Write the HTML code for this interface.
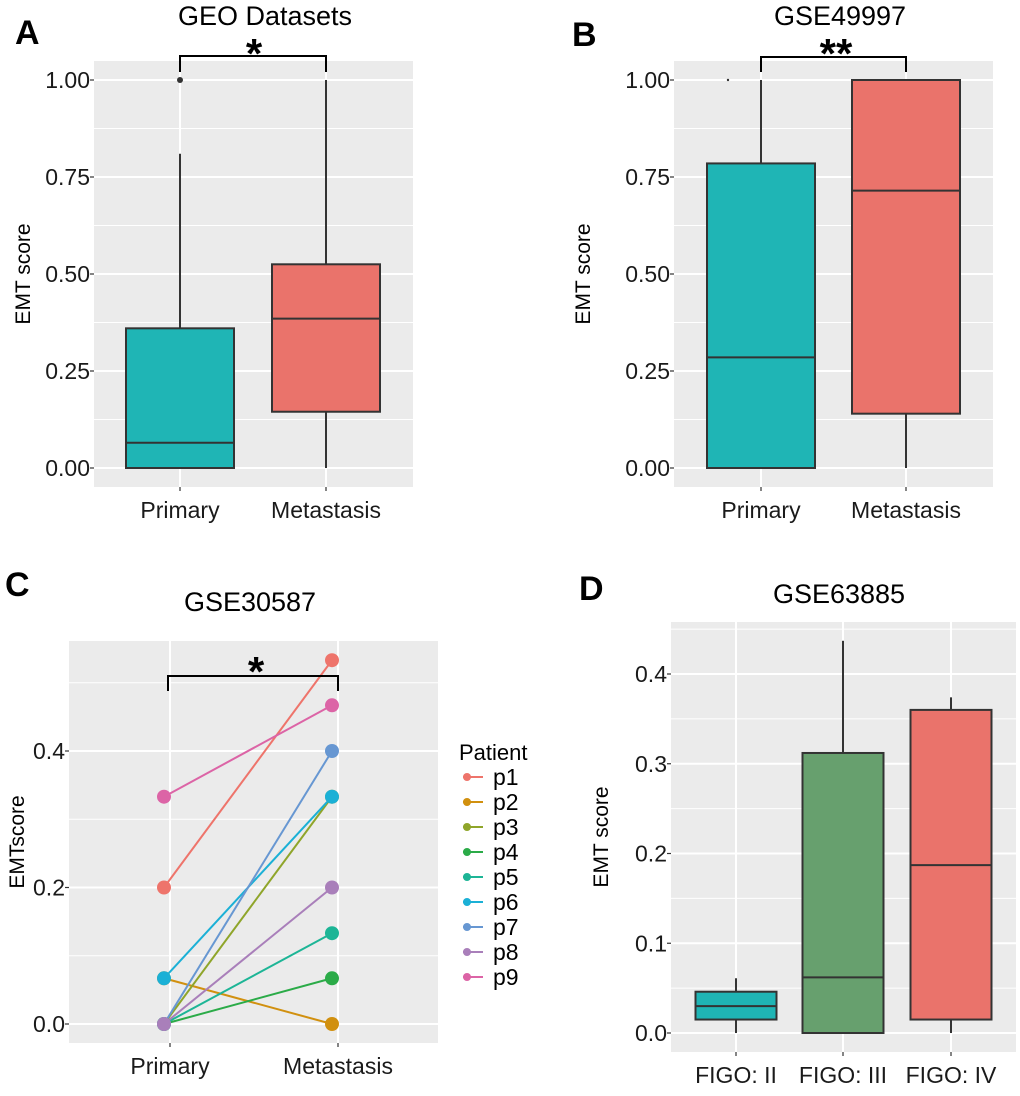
<!DOCTYPE html>
<html><head><meta charset="utf-8">
<style>
body{margin:0;background:#fff;}
svg{display:block;font-family:"Liberation Sans",Arial,sans-serif;}
</style></head>
<body>
<svg id="fig" width="1020" height="1096" viewBox="0 0 1020 1096">
</svg>
<script>
// ---------- DATA ----------
const groupsAB = ["Primary", "Metastasis"];
const ticksAB = [0, 0.25, 0.5, 0.75, 1.0];
const tickLabelsAB = ["0.00", "0.25", "0.50", "0.75", "1.00"];
// [lowerWhisker, q1, median, q3, upperWhisker]
const statsA = [[0, 0, 0.065, 0.36, 0.81], [0, 0.145, 0.385, 0.525, 1.0]];
const outliersA = [[1.0], []];
const statsB = [[0, 0, 0.285, 0.785, 1.0], [0, 0.14, 0.715, 1.0, 1.0]];

const patients = ["p1","p2","p3","p4","p5","p6","p7","p8","p9"];
const primaryC = [0.2, 0.067, 0, 0, 0, 0.067, 0, 0, 0.333];
const metC = [0.533, 0, 0.333, 0.067, 0.133, 0.333, 0.4, 0.2, 0.467];
const patientColors = ["#EE746B","#D1900F","#8FA52A","#2BAB48","#1DB596","#1BB0D6","#6797D2","#A97FBA","#DC64A6"];
const ticksC = [0, 0.2, 0.4];
const tickLabelsC = ["0.0", "0.2", "0.4"];

const groupsD = ["FIGO: II", "FIGO: III", "FIGO: IV"];
const statsD = [[0, 0.015, 0.03, 0.046, 0.061], [0, 0, 0.062, 0.312, 0.437], [0, 0.015, 0.187, 0.36, 0.374]];
const ticksD = [0, 0.1, 0.2, 0.3, 0.4];
const tickLabelsD = ["0.0", "0.1", "0.2", "0.3", "0.4"];

// ---------- HELPERS ----------
const NS = "http://www.w3.org/2000/svg";
const svg = document.getElementById("fig");
function el(tag, attrs, parent, text){
  const e = document.createElementNS(NS, tag);
  for (const k in attrs) e.setAttribute(k, attrs[k]);
  if (text !== undefined) e.textContent = text;
  (parent || svg).appendChild(e);
  return e;
}
function lin(d0, d1, r0, r1){ return v => r0 + (v - d0) * (r1 - r0) / (d1 - d0); }

function panel(cfg){
  const g = el("g", {});
  
  
  const bg = el("rect", {x: cfg.x0, y: cfg.y0, width: cfg.x1 - cfg.x0, height: cfg.y1 - cfg.y0, fill: "#EBEBEB"}, g);
  
  
  for (let i = 0; i < cfg.ticks.length - 1; i++){
    const m = (cfg.ticks[i] + cfg.ticks[i+1]) / 2;
    const gl = el("line", {x1: cfg.x0, x2: cfg.x1, y1: cfg.y(m), y2: cfg.y(m), stroke: "#fff", "stroke-width": 1}, g);
    
    
  }
  if (cfg.extraMinor){ const m = cfg.extraMinor; const gl = el("line", {x1: cfg.x0, x2: cfg.x1, y1: cfg.y(m), y2: cfg.y(m), stroke: "#fff", "stroke-width": 1}, g);
    
     }
  cfg.ticks.forEach((t, i) => {
    const gl = el("line", {x1: cfg.x0, x2: cfg.x1, y1: cfg.y(t), y2: cfg.y(t), stroke: "#fff", "stroke-width": 2}, g);
    
    
    const tk = el("line", {x1: cfg.x0 - 4, x2: cfg.x0, y1: cfg.y(t), y2: cfg.y(t), stroke: "#333", "stroke-width": 1.2}, g);
    
    
    const tl = el("text", {x: cfg.x0 - 4, y: cfg.y(t) + 8, "text-anchor": "end", "font-size": 23, fill: "#1a1a1a"}, g, cfg.tickLabels[i]);
    
    
  });
  cfg.groups.forEach((gname, i) => {
    const x = cfg.xs[i];
    const gl = el("line", {x1: x, x2: x, y1: cfg.y0, y2: cfg.y1, stroke: "#fff", "stroke-width": 2}, g);
    
    
    const tk = el("line", {x1: x, x2: x, y1: cfg.y1, y2: cfg.y1 + 4, stroke: "#333", "stroke-width": 1.2}, g);
    
    
    const tl = el("text", {x: x, y: cfg.y1 + 31, "text-anchor": "middle", "font-size": 23, fill: "#1a1a1a"}, g, gname);
    
    
  });
  const yl = el("text", {x: 0, y: 0, transform: `translate(${cfg.ylabX},${(cfg.y0 + cfg.y1) / 2}) rotate(-90)`, "text-anchor": "middle", "font-size": 21, fill: "#000"}, g, cfg.ylab);
  
  
  const tt = el("text", {x: cfg.titleX, y: cfg.titleY, "text-anchor": "middle", "font-size": 27, fill: "#000"}, g, cfg.title);
  
  
  const pl = el("text", {x: cfg.letterX, y: cfg.letterY, "font-size": 34, "font-weight": "bold", fill: "#000"}, g, cfg.letter);
  
  
  return g;
}

function boxes(g, stats, xs, y, halfW, fills){
  stats.forEach((s, i) => {
    const x = xs[i];
    const w1 = el("line", {x1: x, x2: x, y1: y(s[0]), y2: y(s[1]), stroke: "#333", "stroke-width": 2}, g);
    
    
    const w2 = el("line", {x1: x, x2: x, y1: y(s[3]), y2: y(s[4]), stroke: "#333", "stroke-width": 2}, g);
    
    
    const b = el("rect", {x: x - halfW, y: y(s[3]), width: 2 * halfW, height: Math.max(0, y(s[1]) - y(s[3])), fill: fills[i], stroke: "#333", "stroke-width": 2}, g);
    
    
    const m = el("line", {x1: x - halfW, x2: x + halfW, y1: y(s[2]), y2: y(s[2]), stroke: "#333", "stroke-width": 2}, g);
    
    
  });
}

function bracket(g, xa, xb, yTop, yBot, label, lx, ly){
  const p = el("path", {d: `M${xa},${yBot}V${yTop}H${xb}V${yBot}`, fill: "none", stroke: "#000", "stroke-width": 2}, g);
  
  
  const t = el("text", {x: lx, y: ly, "text-anchor": "middle", "font-size": 42, "font-weight": "bold", fill: "#000"}, g, label);
  
  
}

const TEAL = "#1FB5B5", SALMON = "#EA736B", GREEN = "#67A06E";

// ---------- PANEL A ----------
const yA = lin(0, 1, 468, 80);
const xsA = [180, 326];
const gA = panel({name: "panel-a", x0: 94, x1: 413, y0: 61, y1: 487, y: yA, ticks: ticksAB, tickLabels: tickLabelsAB, groups: groupsAB, xs: xsA, ylab: "EMT score", ylabX: 30, title: "GEO Datasets", titleX: 265, titleY: 25, letter: "A", letterX: 15, letterY: 44});
boxes(gA, statsA, xsA, yA, 54, [TEAL, SALMON]);
outliersA.forEach((arr, i) => arr.forEach(v => {
  const c = el("circle", {cx: xsA[i], cy: yA(v), r: 3, fill: "#333"}, gA);
  
  
}));
bracket(gA, xsA[0], xsA[1], 56, 72, "*", 254, 68);

// ---------- PANEL B ----------
const yB = lin(0, 1, 468, 80);
const xsB = [761, 906];
const gB = panel({name: "panel-b", x0: 674, x1: 993, y0: 61, y1: 487, y: yB, ticks: ticksAB, tickLabels: tickLabelsAB, groups: groupsAB, xs: xsB, ylab: "EMT score", ylabX: 590, title: "GSE49997", titleX: 840, titleY: 25, letter: "B", letterX: 572, letterY: 46});
boxes(gB, statsB, xsB, yB, 54, [TEAL, SALMON]);
const dotB = el("circle", {cx: 728, cy: yB(1.0), r: 1.2, fill: "#333"}, gB);


bracket(gB, xsB[0], xsB[1], 57, 72, "**", 836, 68);

// ---------- PANEL C ----------
const yC = lin(0, 0.4, 1024, 751);
const xsC = [170, 338];
const gC = panel({name: "panel-c", x0: 69, x1: 438, y0: 641, y1: 1043, y: yC, ticks: ticksC, tickLabels: tickLabelsC, groups: groupsAB, xs: xsC, ylab: "EMTscore", ylabX: 24, title: "GSE30587", titleX: 250, titleY: 611, letter: "C", letterX: 5, letterY: 596, extraMinor: 0.5});
const dodge = -6;
patients.forEach((p, i) => {
  const ln = el("line", {x1: xsC[0] + dodge, y1: yC(primaryC[i]), x2: xsC[1] + dodge, y2: yC(metC[i]), stroke: patientColors[i], "stroke-width": 2}, gC);
  
  
});
patients.forEach((p, i) => {
  const c1 = el("circle", {cx: xsC[0] + dodge, cy: yC(primaryC[i]), r: 7, fill: patientColors[i]}, gC);
  
  
  const c2 = el("circle", {cx: xsC[1] + dodge, cy: yC(metC[i]), r: 7, fill: patientColors[i]}, gC);
  
  
});
bracket(gC, 168, 338, 676, 691, "*", 256, 686);
// legend
const lg = el("g", {}, gC);


const lgt = el("text", {x: 459, y: 760, "font-size": 22, fill: "#000"}, lg, "Patient");


patients.forEach((p, i) => {
  const yy = 777 + i * 25;
  const e = el("g", {}, lg);
  
  
  el("line", {x1: 463, x2: 483, y1: yy, y2: yy, stroke: patientColors[i], "stroke-width": 2}, e);
  el("circle", {cx: 467, cy: yy, r: 4, fill: patientColors[i]}, e);
  el("text", {x: 493, y: yy + 8, "font-size": 23, fill: "#000"}, e, p);
});

// ---------- PANEL D ----------
const yD = lin(0, 0.4, 1033, 674);
const xsD = [736, 843, 951];
const gD = panel({name: "panel-d", x0: 671, x1: 1016, y0: 622, y1: 1052, y: yD, ticks: ticksD, tickLabels: tickLabelsD, groups: groupsD, xs: xsD, ylab: "EMT score", ylabX: 608, title: "GSE63885", titleX: 839, titleY: 603, letter: "D", letterX: 579, letterY: 600, extraMinor: 0.45});
boxes(gD, statsD, xsD, yD, 40.5, [TEAL, GREEN, SALMON]);
</script>
</body></html>
